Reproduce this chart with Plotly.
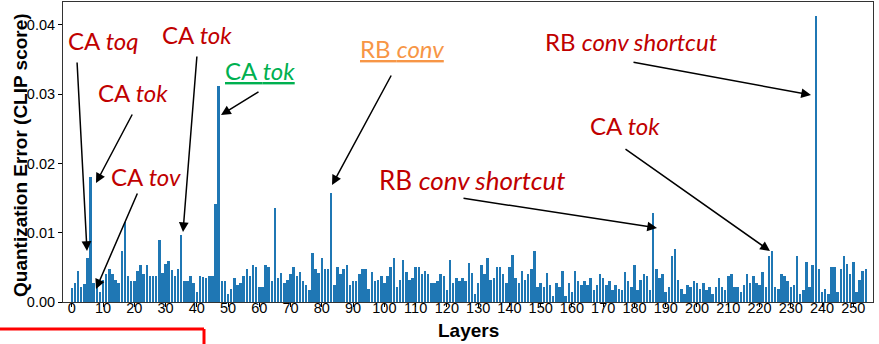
import plotly.graph_objects as go

# ---------------- data ----------------
layers = list(range(255))
err_0_29 = [0.0020, 0.0028, 0.0045, 0.0022, 0.0026, 0.0064, 0.0181, 0.0028, 0.0033, 0.0015,
            0.0032, 0.0041, 0.0047, 0.0041, 0.0032, 0.0028, 0.0074, 0.0116, 0.0038, 0.0030,
            0.0030, 0.0045, 0.0053, 0.0040, 0.0053, 0.0038, 0.0037, 0.0038, 0.0090, 0.0042]
err_30_63 = [0.0055, 0.0059, 0.0046, 0.0037, 0.0048, 0.0097, 0.0031, 0.0031, 0.0038, 0.0027,
             0.0015, 0.0038, 0.0036, 0.0034, 0.0038, 0.0037, 0.0142, 0.0312, 0.0031, 0.0030,
             0.0012, 0.0019, 0.0035, 0.0025, 0.0027, 0.0038, 0.0047, 0.0037, 0.0053, 0.0050,
             0.0021, 0.0022, 0.0053, 0.0051]
err_64_98 = [0.0031, 0.0136, 0.0035, 0.0042, 0.0027, 0.0032, 0.0040, 0.0050, 0.0037, 0.0044,
             0.0031, 0.0025, 0.0017, 0.0071, 0.0048, 0.0042, 0.0063, 0.0047, 0.0047, 0.0157,
             0.0025, 0.0050, 0.0040, 0.0047, 0.0053, 0.0025, 0.0030, 0.0031, 0.0040, 0.0048,
             0.0047, 0.0019, 0.0044, 0.0030, 0.0032]
err_99_131 = [0.0037, 0.0028, 0.0037, 0.0051, 0.0063, 0.0021, 0.0032, 0.0061, 0.0044, 0.0032,
              0.0034, 0.0051, 0.0051, 0.0040, 0.0045, 0.0040, 0.0028, 0.0027, 0.0030, 0.0041,
              0.0037, 0.0018, 0.0061, 0.0028, 0.0034, 0.0030, 0.0035, 0.0031, 0.0057, 0.0042,
              0.0011, 0.0027, 0.0054]
err_132_165 = [0.0040, 0.0064, 0.0032, 0.0035, 0.0051, 0.0050, 0.0040, 0.0027, 0.0050, 0.0068,
               0.0034, 0.0028, 0.0045, 0.0032, 0.0041, 0.0047, 0.0073, 0.0022, 0.0027, 0.0021,
               0.0042, 0.0025, 0.0009, 0.0028, 0.0022, 0.0045, 0.0008, 0.0028, 0.0015, 0.0045,
               0.0030, 0.0024, 0.0031, 0.0024]
err_166_199 = [0.0034, 0.0018, 0.0024, 0.0040, 0.0035, 0.0025, 0.0031, 0.0018, 0.0025, 0.0019,
               0.0018, 0.0044, 0.0031, 0.0021, 0.0054, 0.0017, 0.0032, 0.0041, 0.0037, 0.0018,
               0.0129, 0.0048, 0.0035, 0.0040, 0.0015, 0.0021, 0.0066, 0.0077, 0.0032, 0.0019,
               0.0012, 0.0025, 0.0022, 0.0030]
err_200_232 = [0.0027, 0.0019, 0.0028, 0.0018, 0.0022, 0.0012, 0.0021, 0.0034, 0.0022, 0.0017,
               0.0038, 0.0041, 0.0022, 0.0021, 0.0015, 0.0024, 0.0040, 0.0027, 0.0037, 0.0027,
               0.0025, 0.0044, 0.0021, 0.0067, 0.0073, 0.0022, 0.0019, 0.0041, 0.0038, 0.0030,
               0.0021, 0.0025, 0.0067]
err_233_254 = [0.0012, 0.0018, 0.0058, 0.0021, 0.0054, 0.0413, 0.0048, 0.0014, 0.0019, 0.0012,
               0.0050, 0.0050, 0.0015, 0.0048, 0.0066, 0.0055, 0.0040, 0.0058, 0.0014, 0.0032,
               0.0045, 0.0048]
quant_error = (err_0_29 + err_30_63 + err_64_98 + err_99_131 + err_132_165
               + err_166_199 + err_200_232 + err_233_254)
assert len(quant_error) == len(layers)

x_ticks = list(range(0, 251, 10))
y_ticks = [0.00, 0.01, 0.02, 0.03, 0.04]

# ---------------- layout geometry ----------------
W, H = 879, 344
ML, MR, MT, MB = 63, 6, 2, 42
PW, PH = W - ML - MR, H - MT - MB
XR = [-2.8, 256.3]
YR = [0, 0.0433]


def px_x(px):
    return (px - ML) / PW


def px_y(py):
    return (H - MB - py) / PH


def dx(px):
    return XR[0] + (px - ML) / PW * (XR[1] - XR[0])


def dy(py):
    return YR[0] + (H - MB - py) / PH * (YR[1] - YR[0])


RED = "#C00000"
GREEN = "#00B050"
ORANGE = "#F79646"
FONT = "Lato"
FS = 24

fig = go.Figure()
fig.add_trace(go.Bar(x=layers, y=quant_error, width=0.8, marker_color="#1f77b4",
                     marker_line_width=0))

annotations = []
labels = [
    ("CA <i>toq</i>", 103.5, 40, RED, FS),
    ("CA <i>tok</i>", 197, 34, RED, FS),
    ("CA <i>tok</i>", 133, 92, RED, FS),
    ("CA <i>tov</i>", 146, 176, RED, FS),
    ("<u>CA <i>tok</i></u>", 260, 70, GREEN, FS),
    ("<u>RB <i>conv</i></u>", 402, 49, ORANGE, FS),
    ("RB <i>conv shortcut</i>", 631, 42, RED, FS),
    ("CA <i>tok</i>", 625, 125, RED, FS),
    ("RB <i>conv shortcut</i>", 472, 180, RED, 26),
]
for txt, cx, cy, col, fs in labels:
    annotations.append(dict(text=txt, x=px_x(cx), y=px_y(cy), xref="paper", yref="paper",
                            xanchor="center", yanchor="middle", showarrow=False,
                            font=dict(family=FONT, size=fs, color=col)))

arrows = [
    ((77, 61), (87, 251)),
    ((197, 55), (183, 232)),
    ((133, 113), (96, 183)),
    ((138, 192), (96, 289)),
    ((260, 91), (221, 115)),
    ((392, 74), (332, 185)),
    ((632, 62), (811, 95)),
    ((462, 198), (657, 228)),
    ((624, 148), (770, 251)),
]
for (tx, ty), (hx, hy) in arrows:
    annotations.append(dict(text="", x=dx(hx), y=dy(hy), ax=dx(tx), ay=dy(ty),
                            xref="x", yref="y", axref="x", ayref="y",
                            showarrow=True, arrowhead=2, arrowsize=1.3, arrowwidth=1.5,
                            arrowcolor="black", standoff=0, startstandoff=0))

# axis titles
annotations.append(dict(text="<b>Quantization Error (CLIP score)</b>", x=px_x(20), y=px_y(155),
                        xref="paper", yref="paper", textangle=-90, showarrow=False,
                        xanchor="center", yanchor="middle",
                        font=dict(family="Liberation Sans", size=19, color="black")))
annotations.append(dict(text="<b>Layers</b>", x=px_x(468), y=px_y(330),
                        xref="paper", yref="paper", showarrow=False,
                        xanchor="center", yanchor="middle",
                        font=dict(family="Liberation Sans", size=19, color="black")))

shapes = [
    dict(type="line", xref="paper", yref="paper", x0=px_x(0), x1=px_x(204),
         y0=px_y(329), y1=px_y(329), line=dict(color="#FF0000", width=3)),
    dict(type="line", xref="paper", yref="paper", x0=px_x(204), x1=px_x(204),
         y0=px_y(329), y1=px_y(345), line=dict(color="#FF0000", width=3)),
]

fig.update_layout(
    width=W, height=H, margin=dict(l=ML, r=MR, t=MT, b=MB, pad=0),
    plot_bgcolor="white", paper_bgcolor="white", showlegend=False,
    annotations=annotations, shapes=shapes, bargap=0,
    font=dict(family="Liberation Sans", size=14.5, color="black"),
)
fig.update_xaxes(range=XR, tickvals=x_ticks, ticktext=[str(t) for t in x_ticks],
                 ticks="outside", ticklen=4, tickwidth=1, tickcolor="black",
                 ticklabelstandoff=-11,
                 showline=True, linecolor="#333", linewidth=1, mirror=True,
                 showgrid=False, zeroline=False,
                 tickfont=dict(family="Liberation Sans", size=14.5, color="black"))
fig.update_yaxes(range=YR, tickvals=y_ticks, ticktext=[f"{v:.2f}" for v in y_ticks],
                 ticks="outside", ticklen=4, tickwidth=1, tickcolor="black",
                 showline=True, linecolor="#333", linewidth=1, mirror=True,
                 showgrid=False, zeroline=False,
                 tickfont=dict(family="Liberation Sans", size=14.5, color="black"))

fig.write_html("out.html")
